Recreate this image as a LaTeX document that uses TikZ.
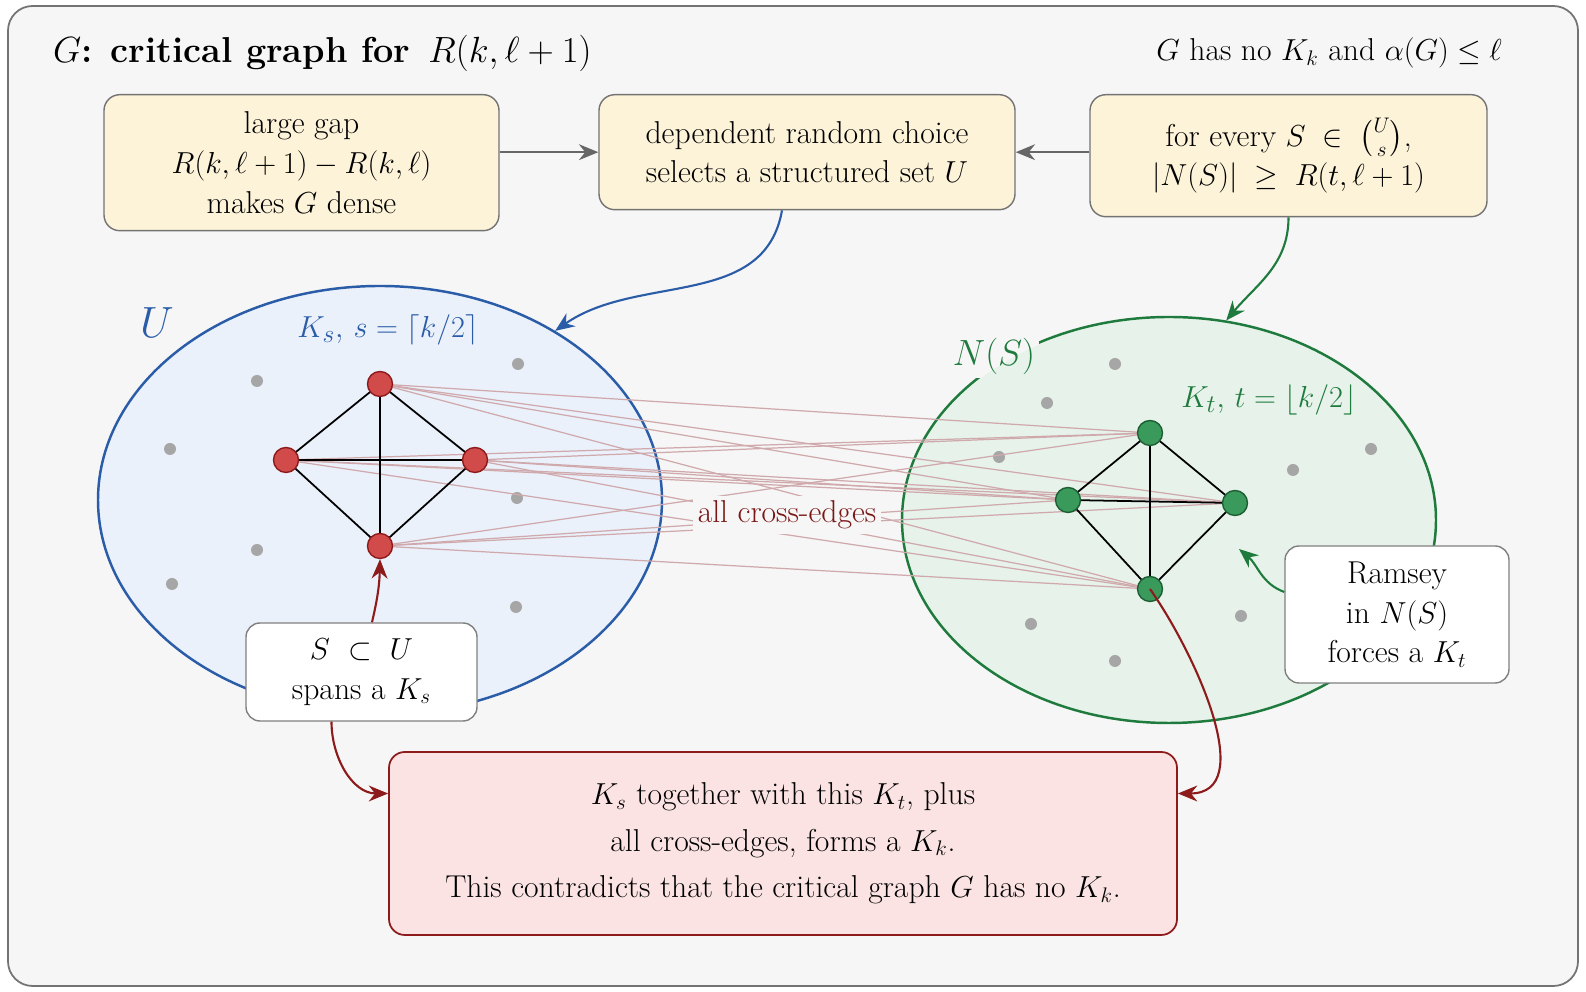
\documentclass[tikz,border=0pt]{standalone}
\usepackage{amsmath}
\usetikzlibrary{arrows.meta,shapes.geometric}

\definecolor{framebg}{HTML}{F6F6F6}
\definecolor{cream}{HTML}{FDF3D9}
\definecolor{ublue}{HTML}{2A5CA8}
\definecolor{ufill}{HTML}{EAF1FB}
\definecolor{ngreen}{HTML}{1F7A3D}
\definecolor{nfill}{HTML}{E7F3EA}
\definecolor{kred}{HTML}{D24B4B}
\definecolor{kreddark}{HTML}{8E1B1B}
\definecolor{kgreen}{HTML}{3A9A5B}
\definecolor{kgreendark}{HTML}{1E5E34}
\definecolor{crossred}{HTML}{CFA9AC}
\definecolor{crosstext}{HTML}{7A1616}
\definecolor{alertfill}{HTML}{FBE3E3}

\tikzset{
  stepbox/.style={draw=black!55,fill=cream,rounded corners=9pt,align=center,line width=0.8pt},
  notebox/.style={draw=black!50,fill=white,rounded corners=8pt,align=center,line width=0.8pt},
  redv/.style={circle,draw=kreddark,fill=kred,line width=0.8pt,minimum size=0.5cm,inner sep=0pt},
  greenv/.style={circle,draw=kgreendark,fill=kgreen,line width=0.8pt,minimum size=0.5cm,inner sep=0pt},
  other/.style={circle,fill=black!35,minimum size=0.24cm,inner sep=0pt},
  flow/.style={-{Stealth[length=11pt,width=9pt]},line width=1.2pt},
}

\begin{document}
\begin{tikzpicture}[font=\fontsize{18}{22.5}\selectfont]
\useasboundingbox (0,0) rectangle (31.72,19.84);
\draw[fill=framebg,draw=black!55,line width=1pt,rounded corners=14pt] (0.16,0.12) rectangle (31.56,19.72);

\node[anchor=west,font=\bfseries\fontsize{20.5}{24}\selectfont] (title) at (0.94,18.78) {$G$: critical graph for\enspace$R(k,\ell+1)$};
\node[anchor=east] (facts) at (30.16,18.78) {$G$ has no $K_k$ and $\alpha(G)\le\ell$};

% top row
\node[stepbox,anchor=north,minimum width=7.9cm,minimum height=2.72cm] (gap) at (6.03,17.96) {large gap\\ $R(k,\ell+1)-R(k,\ell)$\\ makes $G$ dense};
\node[stepbox,anchor=north,minimum width=8.32cm,minimum height=2.3cm] (drc) at (16.14,17.96) {dependent random choice\\ selects a structured set $U$};
\node[stepbox,anchor=north,minimum width=7.94cm,minimum height=2.44cm] (nbr) at (25.77,17.96) {for every $S\;\in\;\binom{U}{s}$,\\ $|N(S)|\;\geq\;R(t,\ell+1)$};
\draw[flow,black!60] (gap.east |- drc.west) -- (drc.west);
\draw[flow,black!60] (nbr.west |- drc.east) -- (drc.east);

% the two sets
\node[ellipse,draw=ublue,fill=ufill,line width=1.4pt,minimum width=11.28cm,minimum height=8.56cm] (U) at (7.6,9.84) {};
\node[ellipse,draw=ngreen,fill=nfill,line width=1.4pt,minimum width=10.68cm,minimum height=8.12cm] (N) at (23.38,9.44) {};
\node[text=ublue,font=\fontsize{24}{28}\selectfont] (ulabel) at (3.14,13.38) {$U$};
\node[text=ublue,font=\fontsize{19}{22}\selectfont] (kslabel) at (7.76,13.24) {$K_s,\, s=\lceil k/2\rceil$};
% N(S) breaks the border of its set
\node[fill=framebg,inner sep=2pt,font=\fontsize{22}{26}\selectfont] (nlabel) at (19.88,12.72) {\phantom{$N(S)$}};
\begin{scope}
  \clip (nlabel.south west) rectangle (nlabel.north east);
  \fill[nfill] (N.center) ellipse [x radius=5.3cm,y radius=4.02cm];
\end{scope}
\node[text=ngreen,font=\fontsize{22}{26}\selectfont] at (nlabel) {$N(S)$};
\node[text=ngreen,font=\fontsize{19}{22}\selectfont] (ktlabel) at (25.38,11.84) {$K_t,\, t=\lfloor k/2\rfloor$};

\foreach \p in {(5.14,12.22),(3.4,10.86),(10.36,12.56),(10.34,9.88),(5.14,8.84),(3.44,8.16),(10.32,7.7),
  (22.3,12.56),(20.94,11.78),(19.98,10.7),(25.86,10.44),(27.42,10.86),(20.62,7.36),(22.3,6.62),(24.82,7.52)}
  \node[other] at \p {};

\coordinate (r1) at (7.6,12.16);
\coordinate (r2) at (5.72,10.64);
\coordinate (r3) at (9.5,10.64);
\coordinate (r4) at (7.6,8.92);
\coordinate (g1) at (23.0,11.18);
\coordinate (g2) at (21.36,9.84);
\coordinate (g3) at (24.7,9.78);
\coordinate (g4) at (23.0,8.06);

% cross-edges
\foreach \a in {r1,r2,r3,r4}
  \foreach \b in {g1,g2,g3,g4}
    \draw[crossred,line width=0.7pt] (\a) -- (\b);
\node[fill=framebg,text=crosstext,inner sep=3pt] (cross) at (15.74,9.54) {all cross-edges};

% the two cliques
\draw[line width=1pt] (r1) -- (r2) -- (r4) -- (r3) -- (r1) -- (r4) (r2) -- (r3);
\draw[line width=1pt] (g1) -- (g2) -- (g4) -- (g3) -- (g1) -- (g4) (g2) -- (g3);
\foreach \v in {r1,r2,r3,r4} \node[redv] (\v v) at (\v) {};
\foreach \v in {g1,g2,g3,g4} \node[greenv] (\v v) at (\v) {};

\draw[flow,ublue] ([xshift=-0.5cm]drc.south) to[out=-100,in=35] (U.44);
\draw[flow,ngreen] (nbr.south) to[out=-90,in=50] (N.74);

% notes
\node[notebox,minimum width=4.62cm,minimum height=1.96cm] (sbox) at (7.23,6.4) {$S\ \subset\ U$\\ spans a $K_s$};
\node[notebox,minimum width=4.48cm,minimum height=2.74cm] (ramsey) at (27.94,7.55) {Ramsey\\ in $N(S)$\\ forces a $K_t$};
\coordinate (kttip) at (24.78,8.86);
\draw[flow,kreddark] ([xshift=0.21cm]sbox.north) to[bend right=6] (r4v.south);
\draw[flow,ngreen] ([yshift=0.45cm]ramsey.west) to[out=160,in=-40] (kttip);

\node[draw=kreddark,fill=alertfill,line width=1pt,rounded corners=9pt,align=center,minimum width=15.76cm,minimum height=3.66cm] (clash) at (15.66,2.97)
  {$K_s$ together with this $K_t$, plus\\[4pt] all cross-edges, forms a $K_k$.\\[4pt] This contradicts that the critical graph $G$ has no $K_k$.};
\draw[flow,kreddark] ([xshift=-0.6cm]sbox.south) to[out=-90,in=180] ([yshift=1cm]clash.west);
\draw[flow,kreddark] (g4) to[out=-55,in=0] ([yshift=1cm]clash.east);
\end{tikzpicture}
\end{document}
